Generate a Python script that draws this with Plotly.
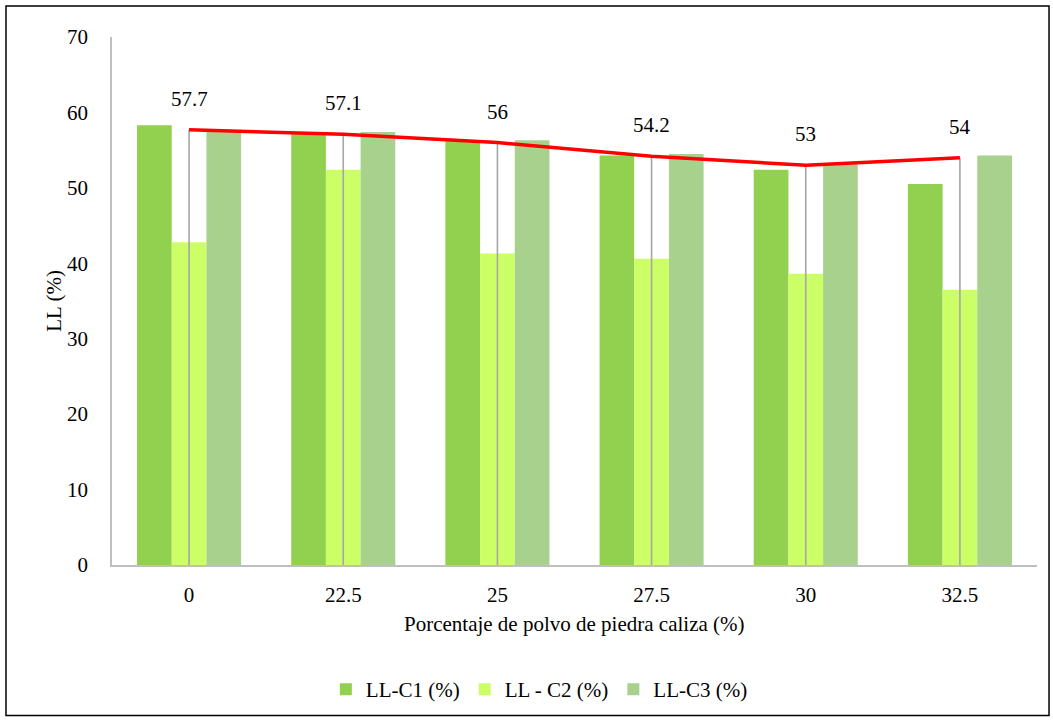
import plotly.graph_objects as go

# Limestone powder content (%) and liquid-limit results
categories = ["0", "22.5", "25", "27.5", "30", "32.5"]
ll_c1 = [58.3, 57.3, 56.2, 54.3, 52.4, 50.5]
ll_c2 = [42.8, 52.4, 41.3, 40.6, 38.6, 36.5]
ll_c3 = [57.5, 57.4, 56.3, 54.5, 53.2, 54.3]
ll_mean = [57.7, 57.1, 56, 54.2, 53, 54]
mean_labels = ["57.7", "57.1", "56", "54.2", "53", "54"]

series_names = ["LL-C1 (%)", "LL - C2 (%)", "LL-C3 (%)"]
series_colors = ["#92D050", "#CCFF66", "#A9D18E"]

FONT = "Liberation Serif, Times New Roman, serif"
FS = 21

fig = go.Figure()

for name, vals, col in zip(series_names, [ll_c1, ll_c2, ll_c3], series_colors):
    fig.add_trace(go.Bar(
        x=categories, y=vals, name=name,
        marker=dict(color=col, line=dict(width=0)),
    ))

# Grey drop lines from the mean curve down to the axis
fig.add_trace(go.Scatter(
    x=categories, y=ll_mean, mode="markers",
    marker=dict(size=0.1, color="rgba(0,0,0,0)"),
    error_y=dict(type="data", symmetric=False,
                 array=[0] * len(ll_mean), arrayminus=ll_mean,
                 color="#A6A6A6", thickness=1.6, width=0),
    showlegend=False, hoverinfo="skip",
))

# Mean liquid-limit curve
fig.add_trace(go.Scatter(
    x=categories, y=ll_mean, mode="lines",
    line=dict(color="#FF0000", width=3.5),
    showlegend=False,
))

# Value labels above the curve (category index positions)
for i, (v, t) in enumerate(zip(ll_mean, mean_labels)):
    fig.add_annotation(x=i, y=v, text=t, showarrow=False,
                       yshift=31, font=dict(family=FONT, size=FS, color="black"))

# Axis titles
fig.add_annotation(xref="paper", yref="paper", x=0.5, y=-0.1113,
                   xanchor="center", yanchor="middle",
                   text="Porcentaje de polvo de piedra caliza (%)", showarrow=False,
                   font=dict(family=FONT, size=FS, color="black"))
fig.add_annotation(xref="paper", yref="paper", x=-0.063, y=0.5,
                   xanchor="center", yanchor="middle",
                   text="LL (%)", showarrow=False, textangle=-90,
                   font=dict(family=FONT, size=FS, color="black"))

# Outer chart frame
fig.add_shape(type="rect", xref="paper", yref="paper",
              x0=-0.1146, x1=1.013, y0=-0.285, y1=1.0585,
              line=dict(color="black", width=1.5), fillcolor="rgba(0,0,0,0)")

fig.update_layout(
    width=1053, height=722,
    margin=dict(l=112, r=16, t=37, b=155),
    paper_bgcolor="white", plot_bgcolor="white",
    barmode="group", bargap=0.325, bargroupgap=0,
    font=dict(family=FONT, size=FS, color="black"),
    legend=dict(orientation="h", x=0.462, xanchor="center", y=-0.236, yanchor="middle",
                font=dict(family=FONT, size=FS, color="black"),
                itemwidth=30, traceorder="normal"),
    xaxis=dict(type="category", range=[-0.5, 5.5], showgrid=False, showline=True,
               linecolor="#BFBFBF", linewidth=1.5, ticks="", ticklabelstandoff=10,
               tickangle=0,
               tickfont=dict(family=FONT, size=FS, color="black")),
    yaxis=dict(range=[0, 70], dtick=10, showgrid=False, showline=True,
               linecolor="#BFBFBF", linewidth=1.5, ticks="", zeroline=False,
               ticklabelstandoff=18,
               tickfont=dict(family=FONT, size=FS, color="black")),
)

fig.write_html("out.html")
